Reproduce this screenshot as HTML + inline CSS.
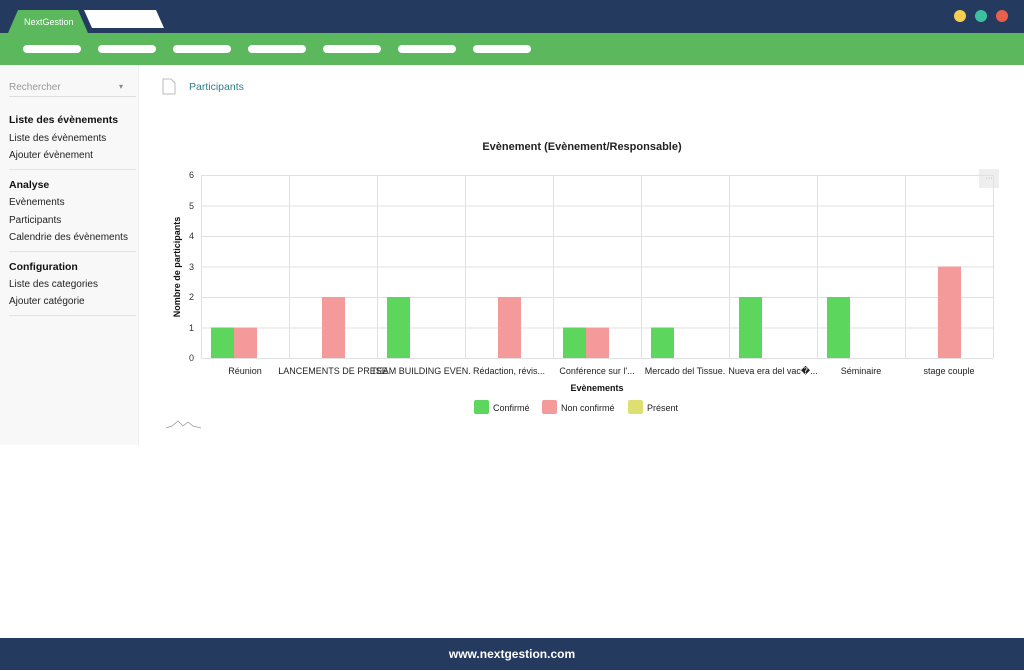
<!DOCTYPE html>
<html><head><meta charset="utf-8"><style>
body{margin:0;width:1024px;height:670px;position:relative;background:#fff;font-family:"Liberation Sans",sans-serif;overflow:hidden}
.a{position:absolute}
.pill{position:absolute;top:45px;width:58px;height:8px;border-radius:4px;background:#fff}
.sb div{position:absolute;left:9px;font-size:10px;color:#222}
.sb b{position:absolute;left:9px;font-size:10.5px;color:#111}
.hr{position:absolute;left:4px;width:127px;height:1px;background:#e4e4e4}
</style></head><body>
<div class="a" style="left:0;top:0;width:1024px;height:33px;background:#243a5e"></div>
<svg class="a" style="left:0;top:0" width="1024" height="66">
<polygon points="8,33 18,10 78,10 88,33" fill="#5cb85c"/>
<polygon points="84,10 156,10 164,28 92,28" fill="#fff"/>
<rect x="0" y="33" width="1024" height="32" fill="#5cb85c"/>
<circle cx="960" cy="16" r="6" fill="#f8cd50"/><circle cx="981" cy="16" r="6" fill="#3cc0a0"/><circle cx="1002" cy="16" r="6" fill="#e8604c"/>
</svg>
<div class="a" style="left:24px;top:17px;font-size:9px;color:#fff">NextGestion</div>
<div class="pill" style="left:23px"></div><div class="pill" style="left:98px"></div><div class="pill" style="left:173px"></div><div class="pill" style="left:248px"></div><div class="pill" style="left:323px"></div><div class="pill" style="left:398px"></div><div class="pill" style="left:473px"></div>
<div class="a sb" style="left:0;top:65px;width:138px;height:380px;background:#f8f8f8;border-right:1px solid #eee">
<div style="top:17px;color:#999">Rechercher</div><div style="left:119px;top:17px;color:#888;font-size:8px">▾</div>
<div class="hr" style="top:31px;background:#ddd"></div>
<b style="top:49px">Liste des évènements</b>
<div style="top:68px">Liste des évènements</div>
<div style="top:85px">Ajouter évènement</div>
<div class="hr" style="top:104px"></div>
<b style="top:114px">Analyse</b>
<div style="top:132px">Evènements</div>
<div style="top:150px">Participants</div>
<div style="top:167px">Calendrie des évènements</div>
<div class="hr" style="top:186px"></div>
<b style="top:196px">Configuration</b>
<div style="top:214px">Liste des categories</div>
<div style="top:231px">Ajouter catégorie</div>
<div class="hr" style="top:250px"></div>
</div>
<svg class="a" style="left:162px;top:78px" width="14" height="17"><path d="M1,1 H9 L13,5 V16 H1 Z" fill="#fff" stroke="#bbb"/></svg>
<div class="a" style="left:189px;top:81px;font-size:10.5px;color:#2f7f8a">Participants</div>
<svg class="a" style="left:0;top:0" width="1024" height="640" font-family="Liberation Sans" >
<text x="582" y="150" font-size="11" font-weight="bold" text-anchor="middle" fill="#222">Evènement (Evènement/Responsable)</text>
<rect x="979" y="169" width="20" height="19" fill="#eee"/><text x="989" y="180" font-size="7" fill="#999" text-anchor="middle">···</text>
<g stroke="#e0e0e0" stroke-width="1">
<line x1="201" y1="175.5" x2="993" y2="175.5"/><line x1="201" y1="206" x2="993" y2="206"/><line x1="201" y1="236.5" x2="993" y2="236.5"/><line x1="201" y1="267" x2="993" y2="267"/><line x1="201" y1="297.5" x2="993" y2="297.5"/><line x1="201" y1="328" x2="993" y2="328"/><line x1="201" y1="358.5" x2="993" y2="358.5"/>
<line x1="201.5" y1="175" x2="201.5" y2="358"/><line x1="289.5" y1="175" x2="289.5" y2="358"/><line x1="377.5" y1="175" x2="377.5" y2="358"/><line x1="465.5" y1="175" x2="465.5" y2="358"/><line x1="553.5" y1="175" x2="553.5" y2="358"/><line x1="641.5" y1="175" x2="641.5" y2="358"/><line x1="729.5" y1="175" x2="729.5" y2="358"/><line x1="817.5" y1="175" x2="817.5" y2="358"/><line x1="905.5" y1="175" x2="905.5" y2="358"/><line x1="993.5" y1="175" x2="993.5" y2="358"/>
</g>
<g font-size="9" fill="#333" text-anchor="end"><text x="194" y="178">6</text><text x="194" y="209">5</text><text x="194" y="239">4</text><text x="194" y="270">3</text><text x="194" y="300">2</text><text x="194" y="331">1</text><text x="194" y="361">0</text></g>
<text transform="translate(180,267) rotate(-90)" font-size="9" font-weight="bold" text-anchor="middle" fill="#111">Nombre de participants</text>
<g fill="#5cd65c">
<rect x="211" y="327.5" width="23" height="30.5"/><rect x="387" y="297" width="23" height="61"/><rect x="563" y="327.5" width="23" height="30.5"/><rect x="651" y="327.5" width="23" height="30.5"/><rect x="739" y="297" width="23" height="61"/><rect x="827" y="297" width="23" height="61"/>
</g>
<g fill="#f59a9a">
<rect x="234" y="327.5" width="23" height="30.5"/><rect x="322" y="297" width="23" height="61"/><rect x="498" y="297" width="23" height="61"/><rect x="586" y="327.5" width="23" height="30.5"/><rect x="938" y="266.5" width="23" height="91.5"/>
</g>
<g font-size="9" fill="#222" text-anchor="middle">
<text x="245" y="374">Réunion</text><text x="333" y="374">LANCEMENTS DE PRESE</text><text x="421" y="374">TEAM BUILDING EVEN.</text><text x="509" y="374">Rédaction, révis...</text><text x="597" y="374">Conférence sur l'...</text><text x="685" y="374">Mercado del Tissue.</text><text x="773" y="374">Nueva era del vac�...</text><text x="861" y="374">Séminaire</text><text x="949" y="374">stage couple</text>
</g>
<text x="597" y="391" font-size="9" font-weight="bold" text-anchor="middle" fill="#111">Evènements</text>
<rect x="474" y="400" width="15" height="14" rx="2" fill="#5cd65c"/><text x="493" y="411" font-size="9" fill="#222">Confirmé</text>
<rect x="542" y="400" width="15" height="14" rx="2" fill="#f59a9a"/><text x="561" y="411" font-size="9" fill="#222">Non confirmé</text>
<rect x="628" y="400" width="15" height="14" rx="2" fill="#dde070"/><text x="647" y="411" font-size="9" fill="#222">Présent</text>
<path d="M166,428 L172,426 L178,421 L183,426 L188,422 L193,426 L201,428" fill="none" stroke="#999" stroke-width="0.8"/>
</svg>
<div class="a" style="left:0;top:638px;width:1024px;height:32px;background:#243a5e;color:#fff;font-size:12px;font-weight:bold;text-align:center;line-height:33px">www.nextgestion.com</div>
</body></html>
